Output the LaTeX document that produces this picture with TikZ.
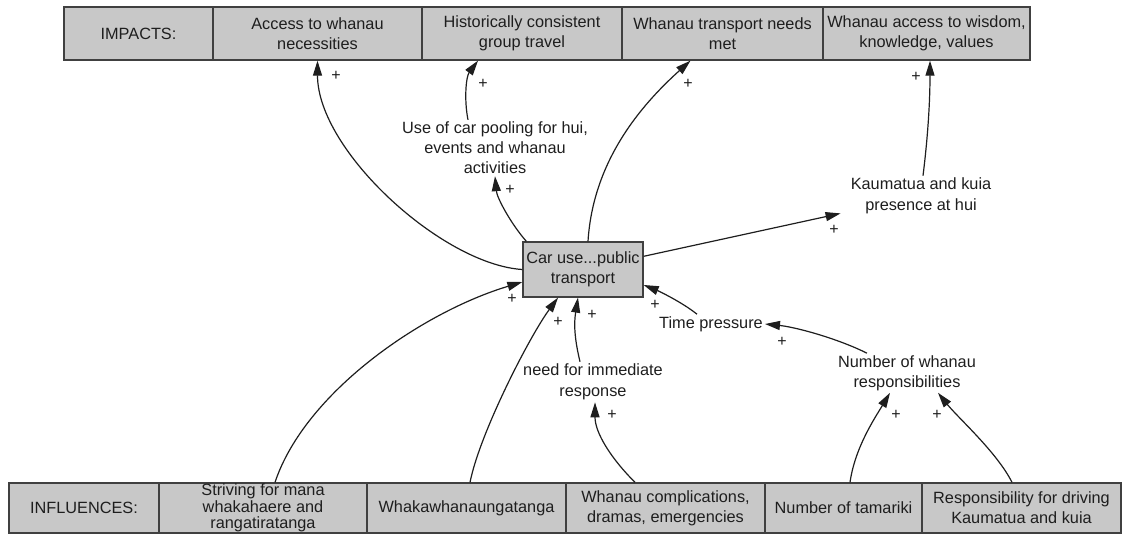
\documentclass[tikz,border=0pt]{standalone}
\usepackage{fontspec}
\setmainfont{Liberation Sans}
\usetikzlibrary{arrows.meta,calc}
\definecolor{boxgray}{RGB}{200,200,200}
\definecolor{ink}{RGB}{30,30,30}

\begin{document}
\begin{tikzpicture}[x=1pt,y=-1pt,
  every node/.style={text=ink},
  lbl/.style={font=\fontsize{16.3}{20}\selectfont, align=center, inner sep=2pt},
  cell/.style={lbl, draw=ink!85, fill=boxgray, line width=1.3pt, inner sep=0pt, minimum height=53pt},
  bcell/.style={cell, minimum height=50pt},
  link/.style={draw=ink, line width=1.2pt, -{Triangle[length=15pt,width=9pt]}},
  sign/.style={font=\fontsize{16}{16}\selectfont, inner sep=0pt},
]
\useasboundingbox (0,0) rectangle (1123,534);

% impacts row
\node[cell, minimum width=149pt] (imp) at (138.5,33.5) {IMPACTS:};
\node[cell, minimum width=209pt] (acc) at (317.5,33.5) {Access to whanau\\necessities};
\node[cell, minimum width=200pt] (his) at (522,33.5) {Historically consistent\\group travel};
\node[cell, minimum width=201pt] (wtn) at (722.5,33.5) {Whanau transport needs\\met};
\node[cell, minimum width=207pt] (wak) at (926.5,33.5) {Whanau access to wisdom,\\knowledge, values};

% influences row
\node[bcell, minimum width=150pt] (inf) at (84,508) {INFLUENCES:};
\node[bcell, minimum width=208pt, font=\fontsize{16.3}{16.5}\selectfont] (str) at (263,508) {Striving for mana\\whakahaere and\\rangatiratanga};
\node[bcell, minimum width=199pt] (wha) at (466.5,508) {Whakawhanaungatanga};
\node[bcell, minimum width=199pt] (com) at (665.5,508) {Whanau complications,\\dramas, emergencies};
\node[bcell, minimum width=157pt] (tam) at (843.5,508) {Number of tamariki};
\node[bcell, minimum width=199pt] (res) at (1021.5,508) {Responsibility for driving\\Kaumatua and kuia};

% central variable
\node[cell, minimum width=120pt, minimum height=55pt] (car) at (583,269.5) {Car use...public\\transport};

% intermediate variables
\node[lbl] (pool) at (495,148) {Use of car pooling for hui,\\events and whanau\\activities};
\node[lbl, font=\fontsize{16.3}{21}\selectfont, inner xsep=10pt] (kau) at (921,196) {Kaumatua and kuia\\presence at hui};
\node[lbl] (tp) at (711,324) {Time pressure};
\node[lbl] (nwr) at (907,373) {Number of whanau\\responsibilities};
\node[lbl, font=\fontsize{16.3}{21}\selectfont] (need) at (593,382) {need for immediate\\response};

% causal links
\draw[link] (car.west) .. controls +(-80,-5) and +(0,90) .. (acc.south);
\draw[link] ($(car.north west)+(4,0)$) .. controls +(-15,-17) and +(2,22) .. (pool.south);
\draw[link] ($(pool.north)+(-27,0)$) .. controls +(-4,-20) and +(-12,16) .. ($(his.south)+(-44,0)$);
\draw[link] ($(car.north)+(5,0)$) .. controls +(5,-80) and +(-50,45) .. ($(wtn.south)+(-32,0)$);
\draw[link] (car) -- (kau);
\draw[link] ($(kau.north)+(2,0)$) .. controls +(5,-40) and +(0,40) .. ($(wak.south)+(3.5,0)$);
\draw[link] ($(str.north)+(12,0)$) .. controls +(30,-90) and +(-100,30) .. ($(car.west)+(0,12.5)$);
\draw[link] ($(wha.north)+(3.5,0)$) .. controls +(10,-50) and +(-28,38) .. ($(car.south)+(-25,0)$);
\draw[link] ($(need.north)+(-13,0)$) .. controls +(-6,-25) and +(-4,25) .. ($(car.south)+(-5,0)$);
\draw[link] ($(com.north)+(-30.5,0)$) .. controls +(-25,-25) and +(0,30) .. ($(need.south)+(2,0)$);
\draw[link] ($(tp.north)+(-14,0)$) .. controls +(-15,-12) and +(15,6) .. ($(car.east)+(0,15.5)$);
\draw[link] ($(nwr.north)+(-40,0)$) .. controls +(-30,-15) and +(30,3) .. (tp.east);
\draw[link] ($(tam.north)+(6.5,0)$) .. controls +(5,-35) and +(-15,25) .. ($(nwr.south)+(-17,0)$);
\draw[link] ($(res.north)+(-9.5,0)$) .. controls +(-15,-30) and +(20,25) .. ($(nwr.south)+(31,0)$);

% polarity signs
\node[sign] (p1) at (336,76) {+};
\node[sign] (p2) at (483,84) {+};
\node[sign] (p3) at (688,84) {+};
\node[sign] (p4) at (916,77) {+};
\node[sign] (p5) at (510,190) {+};
\node[sign] (p6) at (834,230) {+};
\node[sign] (p7) at (512,299) {+};
\node[sign] (p8) at (558,322) {+};
\node[sign] (p9) at (592,315) {+};
\node[sign] (p10) at (655,305) {+};
\node[sign] (p11) at (782,342) {+};
\node[sign] (p12) at (612,415) {+};
\node[sign] (p13) at (896,415) {+};
\node[sign] (p14) at (937,415) {+};
\end{tikzpicture}
\end{document}
